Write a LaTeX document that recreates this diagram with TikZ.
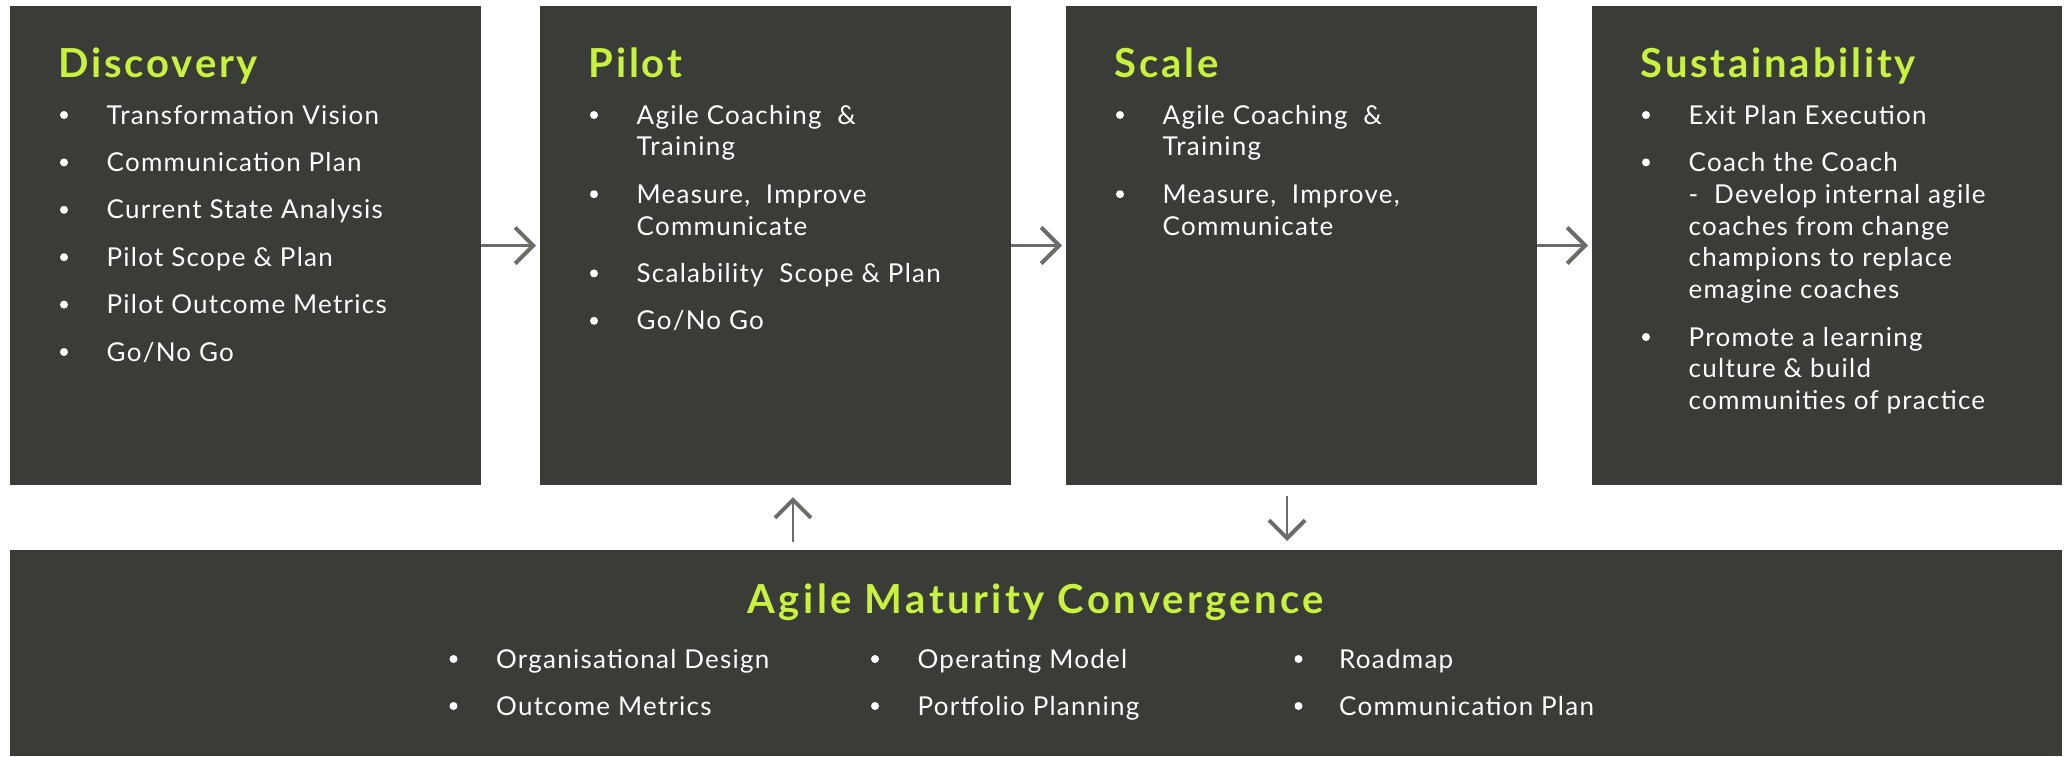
\documentclass[tikz,border=0pt]{standalone}
\usepackage{fontspec}
\setmainfont{Lato}
\newfontfamily\bodyfont{Lato}[LetterSpace=4.8]
\newfontfamily\titlefont{Lato}[LetterSpace=7]
\newfontfamily\convfont{Lato}[LetterSpace=8.5]
\usetikzlibrary{arrows.meta}
\definecolor{boxbg}{HTML}{393C37}
\definecolor{lime}{HTML}{C8F23F}
\definecolor{arrowgray}{HTML}{6B6D68}
\begin{document}
\begin{tikzpicture}[x=1pt,y=-1pt,
  panel/.style={fill=boxbg, draw=none, inner sep=0pt, outer sep=0pt, anchor=north west},
  ttl/.style={text=lime, font=\titlefont\fontsize{40}{48}\selectfont\bfseries, anchor=base west, inner sep=0pt},
  itm/.style={text=white, font=\bodyfont\fontsize{26}{32}\selectfont, anchor=base west, inner sep=0pt},
  dot/.style={circle, fill=white, minimum size=8pt, inner sep=0pt},
  flow/.style={draw=arrowgray, line width=2.5pt, -{Straight Barb[length=18pt,width=36pt,line width=4pt]}}]
\useasboundingbox (0,0) rectangle (2067,756);
% panels
\node[panel, minimum width=471pt, minimum height=479pt] (disc) at (10,6) {};
\node[panel, minimum width=471pt, minimum height=479pt] (pilot) at (540,6) {};
\node[panel, minimum width=471pt, minimum height=479pt] (scale) at (1066,6) {};
\node[panel, minimum width=470pt, minimum height=479pt] (sust) at (1592,6) {};
\node[panel, minimum width=2052pt, minimum height=206pt] (conv) at (10,550) {};
% Discovery
\node[ttl] (tdisc) at (58.5,77) {Discovery};
\foreach \t [count=\i] in {Transformation Vision, Communication Plan, Current State Analysis, Pilot Scope \& Plan, Pilot Outcome Metrics, Go/No Go}{
  \node[dot] (dd\i) at (64,{124+47.4*(\i-1)-9}) {};
  \node[itm] (dt\i) at (106.5,{124+47.4*(\i-1)}) {\t};
}
% Pilot
\node[ttl] (tpilot) at (588.5,77) {Pilot};
\node[dot] (pd1) at (594,115) {};
\node[itm] (pt1) at (636.5,124) {Agile Coaching \ \&};
\node[itm] (pt1b) at (636.5,155.8) {Training};
\node[dot] (pd2) at (594,194.2) {};
\node[itm] (pt2) at (636.5,203.2) {Measure, \ Improve};
\node[itm] (pt2b) at (636.5,235) {Communicate};
\node[dot] (pd3) at (594,273.4) {};
\node[itm] (pt3) at (636.5,282.4) {Scalability \ Scope \& Plan};
\node[dot] (pd4) at (594,320.8) {};
\node[itm] (pt4) at (636.5,329.8) {Go/No Go};
% Scale
\node[ttl] (tscale) at (1114.5,77) {Scale};
\node[dot] (sd1) at (1120,115) {};
\node[itm] (st1) at (1162.5,124) {Agile Coaching \ \&};
\node[itm] (st1b) at (1162.5,155.8) {Training};
\node[dot] (sd2) at (1120,194.2) {};
\node[itm] (st2) at (1162.5,203.2) {Measure, \ Improve,};
\node[itm] (st2b) at (1162.5,235) {Communicate};
% Sustainability
\node[ttl] (tsust) at (1640.5,77) {Sustainability};
\node[dot] (ud1) at (1646,115) {};
\node[itm] (ut1) at (1688.5,124) {Exit Plan Execution};
\node[dot] (ud2) at (1646,162.4) {};
\node[itm] (ut2) at (1688.5,171.4) {Coach the Coach};
\node[itm] (ut2b) at (1688.5,203.2) {- \ Develop internal agile};
\node[itm] (ut2c) at (1688.5,235) {coaches from change};
\node[itm] (ut2d) at (1688.5,266.8) {champions to replace};
\node[itm] (ut2e) at (1688.5,298.6) {emagine coaches};
\node[dot] (ud3) at (1646,337) {};
\node[itm] (ut3) at (1688.5,346) {Promote a learning};
\node[itm] (ut3b) at (1688.5,377.8) {culture \& build};
\node[itm] (ut3c) at (1688.5,409.6) {communities of practice};
% Convergence
\node[ttl, font=\convfont\fontsize{40}{48}\selectfont\bfseries, anchor=base] (tconv) at (1036,613) {Agile Maturity Convergence};
\node[dot] (cd1) at (453.5,659) {};
\node[itm] (ct1) at (496,668) {Organisational Design};
\node[dot] (cd2) at (453.5,706) {};
\node[itm] (ct2) at (496,715) {Outcome Metrics};
\node[dot] (cd3) at (875,659) {};
\node[itm] (ct3) at (917.5,668) {Operating Model};
\node[dot] (cd4) at (875,706) {};
\node[itm] (ct4) at (917.5,715) {Portfolio Planning};
\node[dot] (cd5) at (1298.5,659) {};
\node[itm] (ct5) at (1339,668) {Roadmap};
\node[dot] (cd6) at (1298.5,706) {};
\node[itm] (ct6) at (1339,715) {Communication Plan};
% connectors
\draw[flow, shorten >=4pt] (disc.east) -- (pilot.west);
\draw[flow, shorten >=4pt] (pilot.east) -- (scale.west);
\draw[flow, shorten >=4pt] (scale.east) -- (sust.west);
\coordinate (ux) at (793,520);
\coordinate (dx) at (1287,520);
\draw[flow, line width=2pt, shorten <=8pt, shorten >=12pt] (conv.north -| ux) -- (pilot.south -| ux);
\draw[flow, line width=2pt, shorten <=11pt, shorten >=9pt] (scale.south -| dx) -- (conv.north -| dx);
\end{tikzpicture}
\end{document}
